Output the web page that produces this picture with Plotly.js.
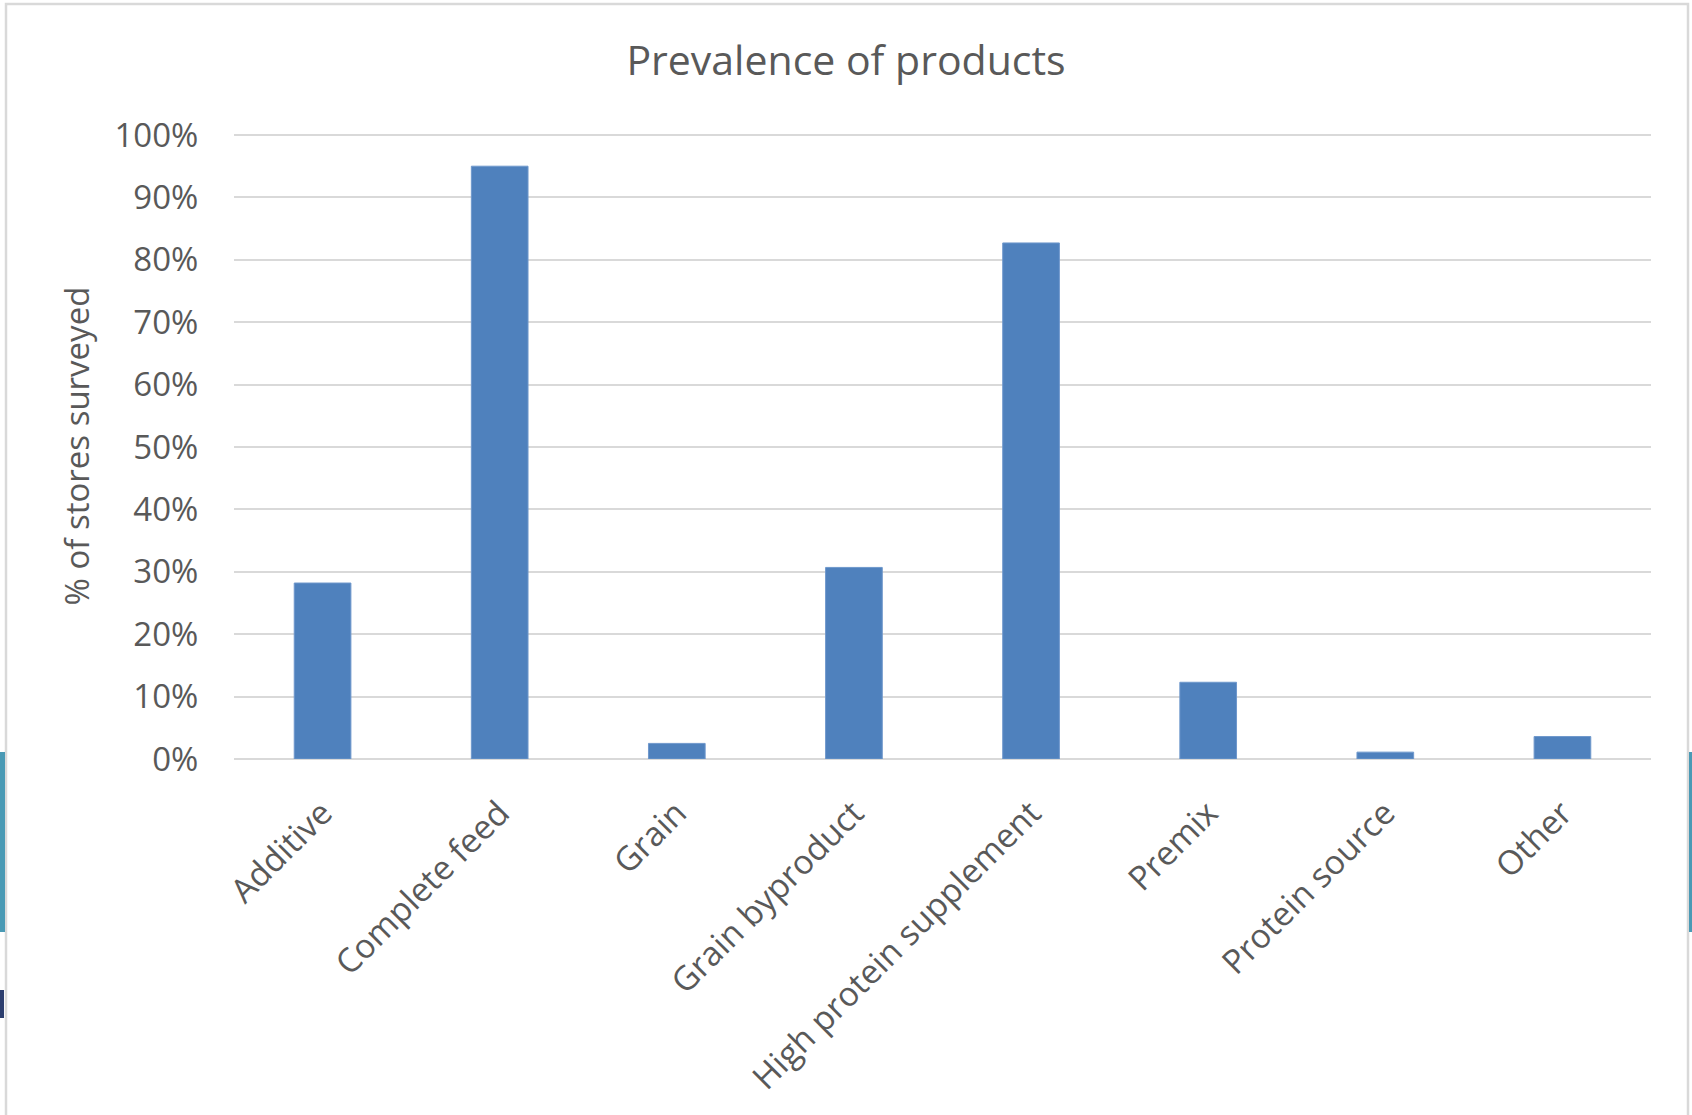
<!DOCTYPE html>
<html><head><meta charset="utf-8">
<script src="https://cdn.plot.ly/plotly-3.0.1.min.js"></script>
<style>html,body{margin:0;padding:0;background:#fff;}#chart{width:1692px;height:1115px;}</style>
</head><body><div id="chart"></div>
<script>
const categories = ["Additive", "Complete feed", "Grain", "Grain byproduct", "High protein supplement", "Premix", "Protein source", "Other"];
const shareOfStores = [0.282, 0.950, 0.025, 0.307, 0.827, 0.123, 0.011, 0.036];
const yTickValues = [0, 0.1, 0.2, 0.3, 0.4, 0.5, 0.6, 0.7, 0.8, 0.9, 1.0];
const yTickLabels = ["0%", "10%", "20%", "30%", "40%", "50%", "60%", "70%", "80%", "90%", "100%"];
const chartTitle = "Prevalence of products";
const yAxisTitle = "% of stores surveyed";

const W = 1692, H = 1115;
const M = {l: 234, r: 41, t: 133, b: 356};
const pw = W - M.l - M.r, ph = H - M.t - M.b;
function px(x) { return (x - M.l) / pw; }
function py(y) { return (H - M.b - y) / ph; }

const textColor = '#595959';
const fontFamily = '"Open Sans", "Liberation Sans", sans-serif';

const trace = {
  type: 'bar',
  x: categories,
  y: shareOfStores,
  width: 0.32,
  marker: {color: '#4f81bd', line: {color: '#6f98cc', width: 1}},
  hoverinfo: 'x+y'
};

const shapes = [
  {type: 'rect', xref: 'paper', yref: 'paper', x0: px(6), x1: px(1688), y0: py(4), y1: py(1130),
   line: {color: '#d9d9d9', width: 2.5}, fillcolor: 'rgba(0,0,0,0)', layer: 'below'},
  {type: 'rect', xref: 'paper', yref: 'paper', x0: px(0), x1: px(5), y0: py(752), y1: py(932),
   line: {width: 0}, fillcolor: '#4a9ab5'},
  {type: 'rect', xref: 'paper', yref: 'paper', x0: px(1689), x1: px(1692), y0: py(752), y1: py(932),
   line: {width: 0}, fillcolor: '#4a9ab5'},
  {type: 'rect', xref: 'paper', yref: 'paper', x0: px(0), x1: px(4), y0: py(990), y1: py(1018),
   line: {width: 0}, fillcolor: '#2c3e6e'}
];

const layout = {
  width: W, height: H,
  margin: M,
  paper_bgcolor: '#ffffff',
  plot_bgcolor: '#ffffff',
  showlegend: false,
  font: {family: fontFamily, color: textColor, size: 33},
  title: {
    text: chartTitle,
    font: {family: fontFamily, size: 41, color: textColor},
    xref: 'container', x: 0.5, xanchor: 'center',
    yref: 'container', y: 1 - 61 / H, yanchor: 'middle'
  },
  xaxis: {
    type: 'category',
    range: [-0.5, 7.5],
    tickangle: -45,
    ticks: 'outside', ticklen: 20, tickcolor: 'rgba(0,0,0,0)',
    showgrid: false, showline: false, zeroline: false,
    tickfont: {family: fontFamily, size: 33.5, color: textColor},
    automargin: false
  },
  yaxis: {
    range: [0, 1.0032],
    tickmode: 'array', tickvals: yTickValues, ticktext: yTickLabels,
    ticks: 'outside', ticklen: 28, tickcolor: 'rgba(0,0,0,0)',
    showgrid: true, gridcolor: '#d9d9d9', gridwidth: 2.2,
    zeroline: true, zerolinecolor: '#d9d9d9', zerolinewidth: 2.2,
    showline: false,
    tickfont: {family: fontFamily, size: 33, color: textColor},
    title: {text: yAxisTitle, font: {family: fontFamily, size: 33, color: textColor}, standoff: 14},
    automargin: false
  },
  shapes: shapes,
  bargap: 0.68
};

Plotly.newPlot('chart', [trace], layout, {displayModeBar: false, responsive: false});
</script>
</body></html>
